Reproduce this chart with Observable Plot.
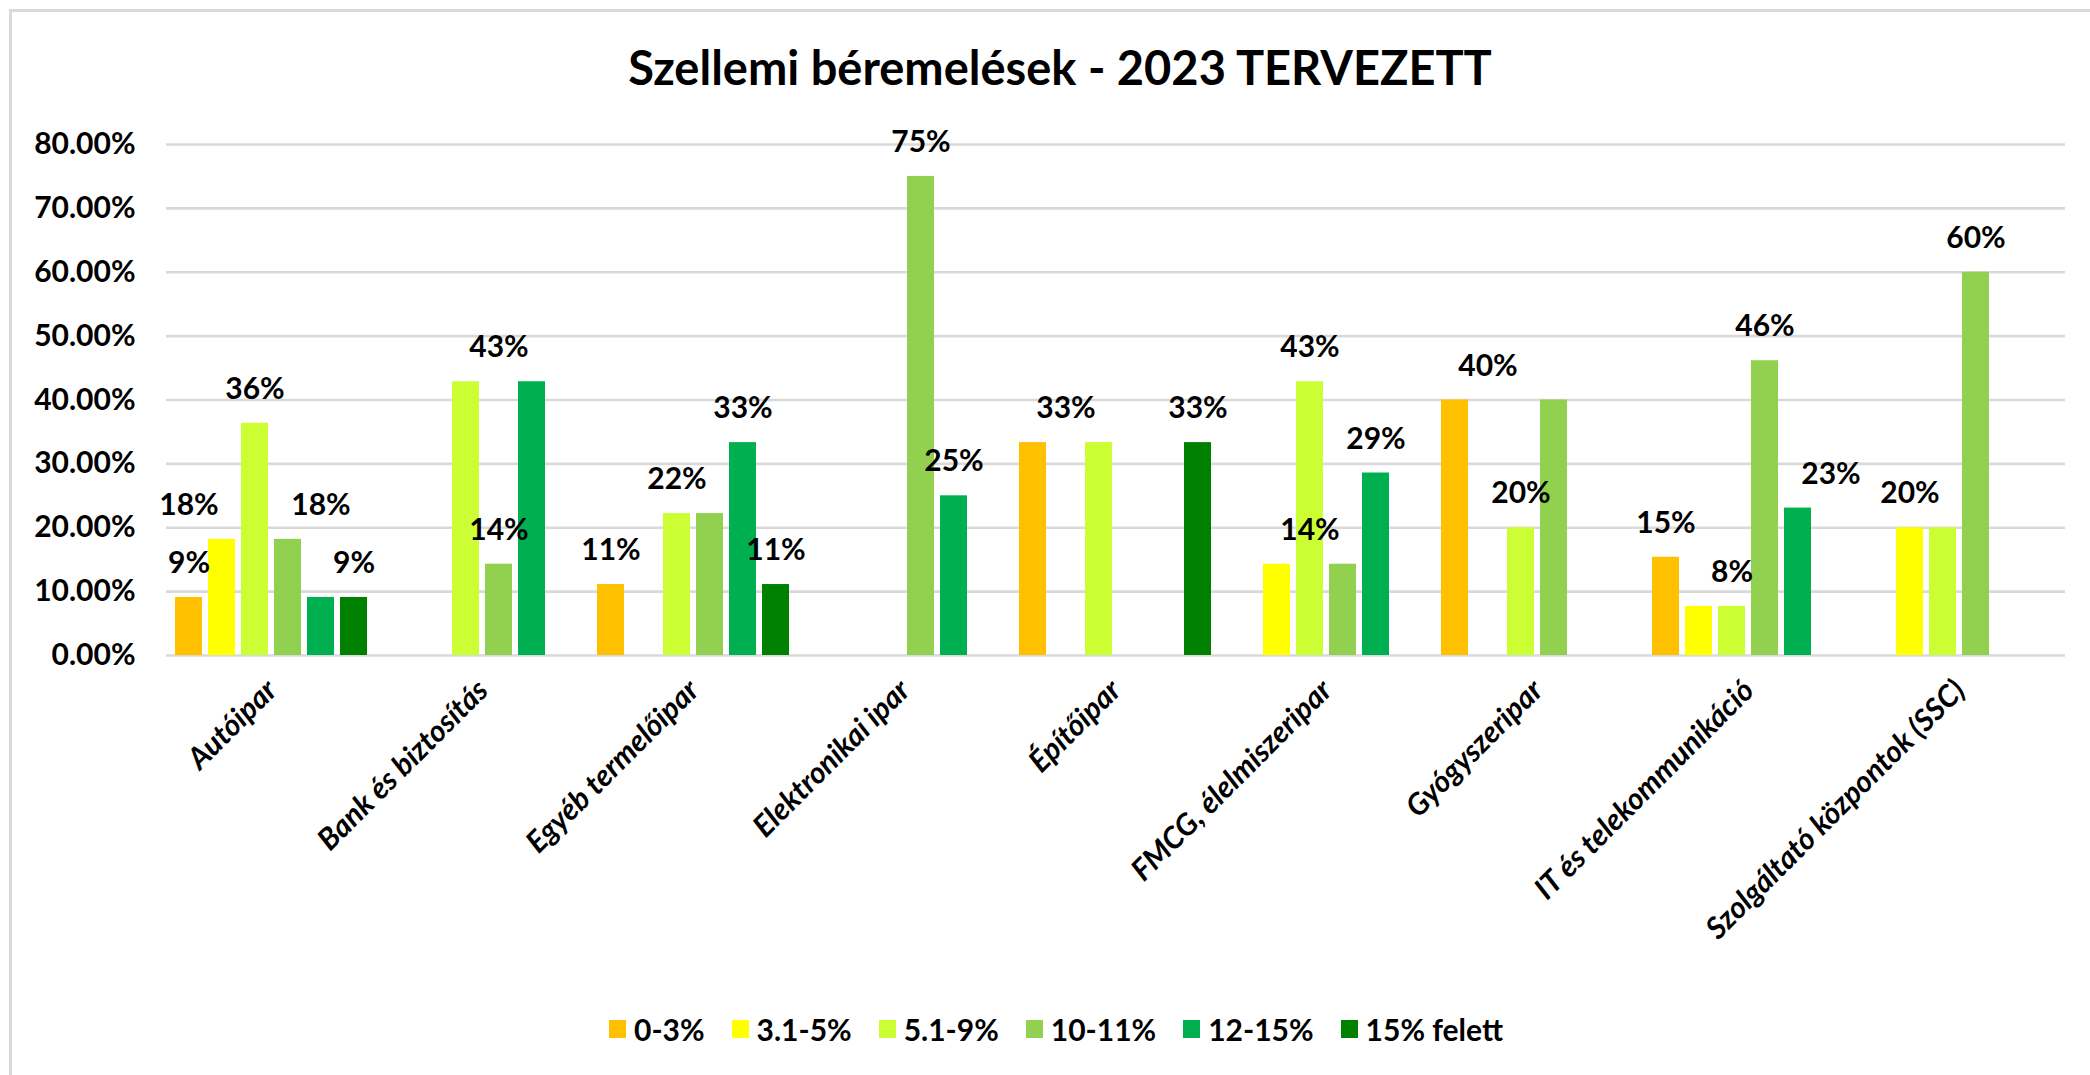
<!DOCTYPE html>
<html>
<head>
<meta charset="utf-8">
<script src="https://cdn.jsdelivr.net/npm/d3@7"></script>
<script src="https://cdn.jsdelivr.net/npm/@observablehq/plot@0.6"></script>
<style>
  html, body { margin: 0; padding: 0; background: #fff; }
  body { width: 2090px; height: 1075px; position: relative; overflow: hidden; font-family: Lato, sans-serif; }
  #frame { position: absolute; left: 9px; top: 9px; width: 2300px; height: 1300px; border-left: 3px solid #d9d9d9; border-top: 3px solid #d9d9d9; box-sizing: border-box; }
  #title { position: absolute; left: 30px; width: 2060px; top: 44px; text-align: center; font: bold 47px Lato, sans-serif; line-height: 47px; color: #000; white-space: nowrap; }
  #chart { position: absolute; left: 0; top: 100px; }
  #legend { position: absolute; left: 609px; top: 1011px; }
  #legend div { font: bold 30px Lato, sans-serif !important; color: #000; margin: 0 !important; line-height: 34px; }
  #legend span { margin-right: 27px !important; font: bold 30px Lato, sans-serif; color: #000; }
  #legend svg { margin-right: 8px !important; }
  g[aria-label="fx-axis tick label"] text { font-style: italic; }
</style>
</head>
<body>
<div id="frame"></div>
<div id="title">Szellemi béremelések - 2023 TERVEZETT</div>
<div id="chart"></div>
<div id="legend"></div>
<script>
// Categories (x-axis)
const categories = [
  "Autóipar",
  "Bank és biztosítás",
  "Egyéb termelőipar",
  "Elektronikai ipar",
  "Építőipar",
  "FMCG, élelmiszeripar",
  "Gyógyszeripar",
  "IT és telekommunikáció",
  "Szolgáltató központok (SSC)"
];

// Series (legend)
const series = ["0-3%", "3.1-5%", "5.1-9%", "10-11%", "12-15%", "15% felett"];
const seriesColors = ["#FFC000", "#FFFF00", "#CCFF33", "#92D050", "#00B050", "#008000"];

// Values in percent, one array per series, ordered as categories
const v0_3     = [9.09, 0,     11.11, 0,  33.33, 0,     40, 15.38, 0];
const v3_5     = [18.18, 0,    0,     0,  0,     14.29, 0,  7.69,  20];
const v5_9     = [36.36, 42.86, 22.22, 0, 33.33, 42.86, 20, 7.69,  20];
const v10_11   = [18.18, 14.29, 22.22, 75, 0,    14.29, 40, 46.15, 60];
const v12_15   = [9.09, 42.86,  33.33, 25, 0,    28.57, 0,  23.08, 0];
const v15plus  = [9.09, 0,      11.11, 0,  33.33, 0,    0,  0,     0];
const seriesValues = [v0_3, v3_5, v5_9, v10_11, v12_15, v15plus];

// Y-axis tick values
const yTicks = [0, 0.1, 0.2, 0.3, 0.4, 0.5, 0.6, 0.7, 0.8];

// Data labels as shown: [category, bar it sits over, value in percent]
const barLabels = [
  ["Autóipar", "0-3%", 9.09],
  ["Autóipar", "0-3%", 18.18],
  ["Autóipar", "5.1-9%", 36.36],
  ["Autóipar", "12-15%", 18.18],
  ["Autóipar", "15% felett", 9.09],
  ["Bank és biztosítás", "10-11%", 42.86],
  ["Bank és biztosítás", "10-11%", 14.29],
  ["Egyéb termelőipar", "0-3%", 11.11],
  ["Egyéb termelőipar", "5.1-9%", 22.22],
  ["Egyéb termelőipar", "12-15%", 33.33],
  ["Egyéb termelőipar", "15% felett", 11.11],
  ["Elektronikai ipar", "10-11%", 75],
  ["Elektronikai ipar", "12-15%", 25],
  ["Építőipar", "3.1-5%", 33.33],
  ["Építőipar", "15% felett", 33.33],
  ["FMCG, élelmiszeripar", "5.1-9%", 42.86],
  ["FMCG, élelmiszeripar", "5.1-9%", 14.29],
  ["FMCG, élelmiszeripar", "12-15%", 28.57],
  ["Gyógyszeripar", "3.1-5%", 40],
  ["Gyógyszeripar", "5.1-9%", 20],
  ["IT és telekommunikáció", "0-3%", 15.38],
  ["IT és telekommunikáció", "5.1-9%", 7.69],
  ["IT és telekommunikáció", "10-11%", 46.15],
  ["IT és telekommunikáció", "15% felett", 23.08],
  ["Szolgáltató központok (SSC)", "3.1-5%", 20],
  ["Szolgáltató központok (SSC)", "10-11%", 60]
];

const bars = [];
categories.forEach((c, i) => {
  series.forEach((s, j) => {
    const v = seriesValues[j][i];
    if (v > 0) bars.push({category: c, series: s, value: v / 100});
  });
});
const labels = barLabels.map(([c, s, v]) => ({category: c, series: s, value: v / 100}));

const FONT = "Lato, sans-serif";

const chart = Plot.plot({
  width: 2090,
  height: 880,
  marginTop: 44,
  marginBottom: 325,
  marginLeft: 163,
  marginRight: 22,
  style: {fontFamily: FONT, fontSize: "30px", fontWeight: "bold", color: "#000", background: "transparent", overflow: "visible"},
  fx: {domain: categories, padding: 0, label: null},
  x: {domain: series, paddingInner: 0.18, paddingOuter: 0.26, axis: null},
  y: {domain: [0, 0.8], label: null},
  color: {domain: series, range: seriesColors},
  marks: [
    Plot.gridY(yTicks, {stroke: "#d9d9d9", strokeWidth: 2.6, strokeOpacity: 1}),
    Plot.axisY(yTicks, {tickSize: 0, tickPadding: 31, tickFormat: d3.format(".2%"), label: null, fill: "#000"}),
    Plot.barY(bars, {fx: "category", x: "series", y: "value", fill: "series"}),
    Plot.text(labels, {
      fx: "category", x: "series", y: "value",
      text: d => d3.format(".0%")(d.value),
      dy: -34, lineAnchor: "middle", fill: "#000", fontWeight: "bold"
    }),
    Plot.axisFx({
      anchor: "bottom", tickRotate: -45, tickSize: 0, tickPadding: 30,
      lineAnchor: "middle", textAnchor: "end", label: null, fill: "#000",
      fontStyle: "italic", fontWeight: "bold"
    })
  ]
});
document.getElementById("chart").appendChild(chart);

const legend = Plot.legend({
  color: {domain: series, range: seriesColors},
  legend: "swatches",
  swatchWidth: 17,
  swatchHeight: 18
});
document.getElementById("legend").appendChild(legend);
</script>
</body>
</html>
